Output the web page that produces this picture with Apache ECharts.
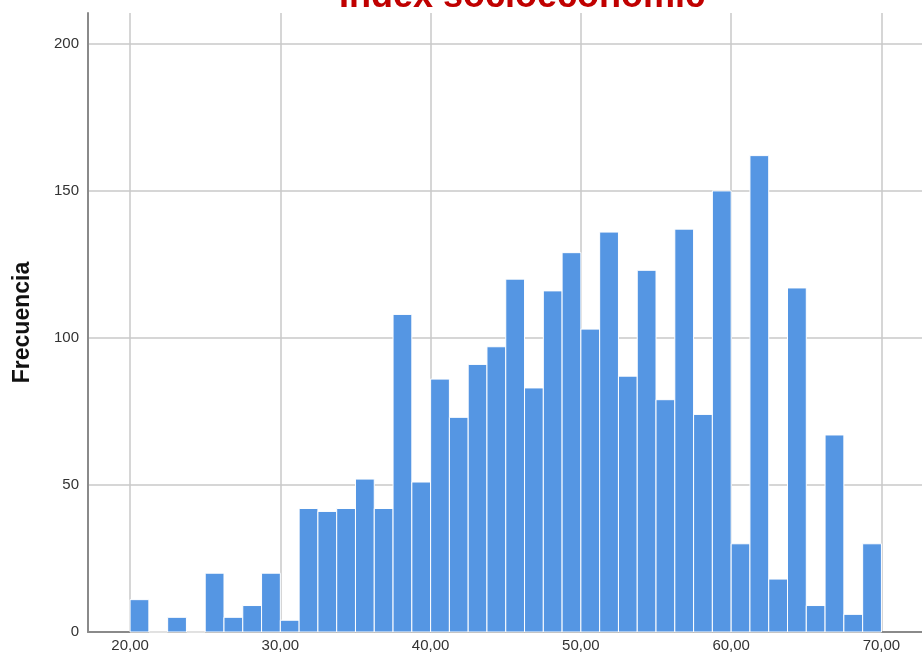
<!DOCTYPE html>
<html>
<head>
<meta charset="utf-8">
<script src="https://cdn.jsdelivr.net/npm/echarts@6/dist/echarts.min.js"></script>
<style>
html, body { margin: 0; padding: 0; background: #fff; }
#chart { width: 922px; height: 657px; }
</style>
</head>
<body>
<div id="chart"></div>
<script>
// histograma: limites de cada intervalo y su frecuencia
var binLow = [20, 21.25, 22.5, 23.75, 25, 26.25, 27.5, 28.75, 30, 31.25,
    32.5, 33.75, 35, 36.25, 37.5, 38.75, 40, 41.25, 42.5, 43.75,
    45, 46.25, 47.5, 48.75, 50, 51.25, 52.5, 53.75, 55, 56.25,
    57.5, 58.75, 60, 61.25, 62.5, 63.75, 65, 66.25, 67.5, 68.75];
var binHigh = [21.25, 22.5, 23.75, 25, 26.25, 27.5, 28.75, 30, 31.25, 32.5,
    33.75, 35, 36.25, 37.5, 38.75, 40, 41.25, 42.5, 43.75, 45,
    46.25, 47.5, 48.75, 50, 51.25, 52.5, 53.75, 55, 56.25, 57.5,
    58.75, 60, 61.25, 62.5, 63.75, 65, 66.25, 67.5, 68.75, 70];
var counts = [11, 0, 5, 0, 20, 5, 9, 20, 4, 42,
    41, 42, 52, 42, 108, 51, 86, 73, 91, 97,
    120, 83, 116, 129, 103, 136, 87, 123, 79, 137,
    74, 150, 30, 162, 18, 117, 9, 67, 6, 30];
var xTicks = [20, 30, 40, 50, 60, 70];
var yTicks = [0, 50, 100, 150, 200];

var barData = [];
for (var i = 0; i < counts.length; i++) {
    barData.push([binLow[i], binHigh[i], counts[i]]);
}

var chart = echarts.init(document.getElementById('chart'));
var option = {
    animation: false,
    backgroundColor: '#fff',
    title: {
        text: 'Index socioeconomic',
        left: 517,
        top: -26,
        textAlign: 'center',
        textStyle: {
            color: '#c00000',
            fontFamily: 'Liberation Sans, Arial',
            fontWeight: 'bold',
            fontSize: 36
        }
    },
    grid: { left: 88, right: 0, top: 13, bottom: 25, containLabel: false, outerBoundsMode: 'none' },
    xAxis: {
        type: 'value',
        min: 17.2,
        max: 72.7,
        axisLine: { show: true, lineStyle: { color: '#8a8a8a', width: 2 } },
        axisTick: { show: false, customValues: xTicks },
        axisLabel: {
            customValues: xTicks,
            color: '#333',
            fontFamily: 'Liberation Sans, Arial',
            fontSize: 15,
            margin: 6,
            formatter: function (v) { return v.toFixed(2).replace('.', ','); }
        },
        splitLine: { show: true, showMinLine: true, showMaxLine: true, lineStyle: { color: '#c8c8c8', width: 1.5 } }
    },
    yAxis: {
        type: 'value',
        min: 0,
        max: 210.5,
        interval: 50,
        name: 'Frecuencia',
        nameLocation: 'middle',
        nameRotate: 90,
        nameGap: 54,
        nameTextStyle: {
            color: '#111',
            fontFamily: 'Liberation Sans, Arial',
            fontWeight: 'bold',
            fontSize: 23
        },
        axisLine: { show: true, lineStyle: { color: '#8a8a8a', width: 2 } },
        axisTick: { show: false },
        axisLabel: {
            color: '#333',
            fontFamily: 'Liberation Sans, Arial',
            fontSize: 15,
            margin: 9,
            showMaxLabel: false,
            formatter: function (v) { return yTicks.indexOf(v) >= 0 ? String(v) : ''; }
        },
        splitLine: { show: true, showMinLine: false, showMaxLine: false, lineStyle: { color: '#c8c8c8', width: 1.5 } }
    },
    series: [{
        type: 'custom',
        data: barData,
        renderItem: function (params, api) {
            var p0 = api.coord([api.value(0), api.value(2)]);
            var p1 = api.coord([api.value(1), 0]);
            return {
                type: 'rect',
                shape: { x: p0[0], y: p0[1], width: p1[0] - p0[0], height: p1[1] - p0[1] },
                style: { fill: '#5596e3', stroke: '#ffffff', lineWidth: 1 }
            };
        },
        encode: { x: [0, 1], y: 2 }
    }]
};
chart.setOption(option);
</script>
</body>
</html>
